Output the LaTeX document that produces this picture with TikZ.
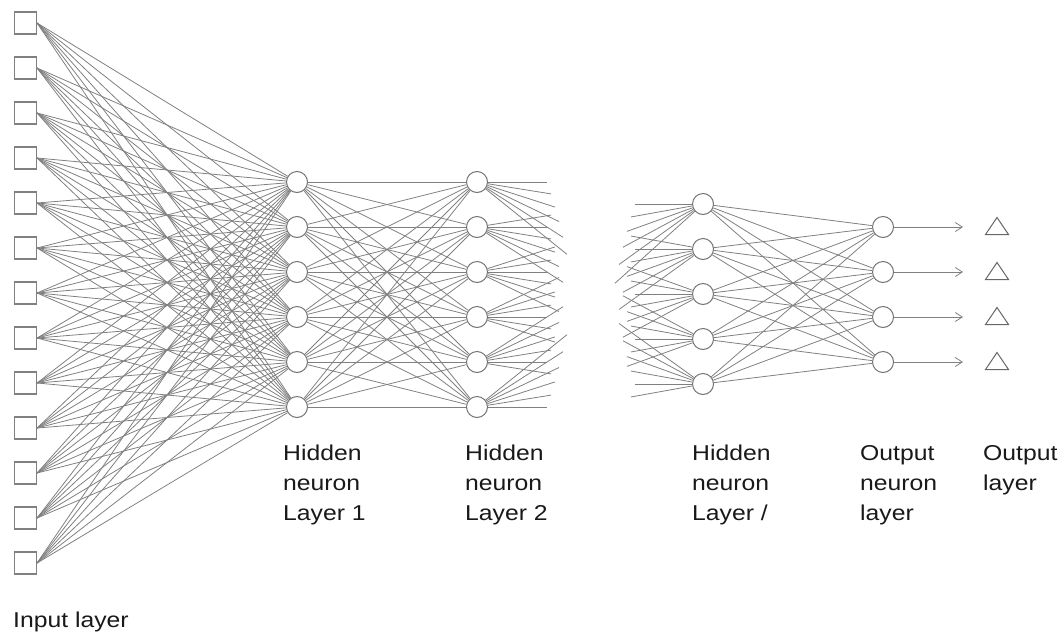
\documentclass[tikz,border=0pt]{standalone}
\usepackage{fontspec}
\setmainfont{Liberation Sans}
\newfontfamily\lblfont{Liberation Sans}[FakeStretch=1.15]
\usetikzlibrary{calc,arrows.meta,shapes.geometric}

\begin{document}
\begin{tikzpicture}[x=1pt,y=-1pt,
  wire/.style={draw=black!50, line width=0.8pt},
  inbox/.style={draw=black!50, line width=1.1pt, minimum size=22pt, inner sep=0pt, fill=white},
  neuron/.style={circle, draw=black!55, line width=1pt, fill=white, minimum size=21pt, inner sep=0pt},
  outtri/.style={isosceles triangle, isosceles triangle stretches, shape border rotate=90,
    draw=black!60, line width=1pt, minimum width=23pt, minimum height=17pt, inner sep=0pt},
  lbl/.style={anchor=north west, inner sep=0pt, align=left, text=black!90,
    font=\lblfont\fontsize{21.5pt}{30pt}\selectfont},
  outarrow/.style={wire, -{Straight Barb[length=7pt,width=9pt]}}
]
\useasboundingbox (0,0) rectangle (1064,635);

% input units
\foreach \i in {0,...,12} \node[inbox] (in\i) at (25.5,{23+45*\i}) {};
% hidden layers
\foreach \i in {0,...,5} \node[neuron] (ha\i) at (297,{182+45*\i}) {};
\foreach \i in {0,...,5} \node[neuron] (hb\i) at (477,{182+45*\i}) {};
\foreach \i in {0,...,4} \node[neuron] (hl\i) at (703,{204+45*\i}) {};
% output neurons, arrows and output units
\foreach \i in {0,...,3} {
  \node[neuron] (on\i) at (883,{227+45*\i}) {};
  \coordinate (ae\i) at (963,{227+45*\i});
  \node[outtri, anchor=south] (ot\i) at (997,{235+45*\i}) {};
}

% input -> hidden layer 1
\foreach \i in {0,...,12} \foreach \j in {0,...,5}
  \draw[wire] (in\i.east) -- (ha\j);
% hidden layer 1 -> hidden layer 2
\foreach \i in {0,...,5} \foreach \j in {0,...,5}
  \draw[wire] (ha\i) -- (hb\j);
% hidden layer 2 -> following layers (cut short)
\foreach \i in {0,...,5} \foreach \j in {0,...,5} {
  \pgfmathsetmacro\tcut{(70+4*abs(\i-\j))/280}
  \coordinate (sb\i\j) at ($(hb\i.center)!\tcut!(757,{182+45*\j})$);
  \draw[wire] (hb\i) -- (sb\i\j);
}
% preceding layers -> hidden layer l (cut short)
\foreach \i in {0,...,4} \foreach \j in {0,...,5} {
  \pgfmathsetmacro\tcut{(68+4*abs(\i-\j))/250}
  \coordinate (sl\i\j) at ($(hl\i.center)!\tcut!(453,{204+45*\j})$);
  \draw[wire] (sl\i\j) -- (hl\i);
}
% hidden layer l -> output neurons
\foreach \i in {0,...,4} \foreach \j in {0,...,3}
  \draw[wire] (hl\i) -- (on\j);
% output arrows
\foreach \i in {0,...,3}
  \draw[outarrow] (on\i) -- (ae\i);

% labels
\node[lbl] (lab1) at (283,445) {Hidden\\neuron\\Layer 1};
\node[lbl] (lab2) at (465,445) {Hidden\\neuron\\Layer 2};
\node[lbl] (labl) at (692,445) {Hidden\\neuron\\Layer /};
\node[lbl] (labo) at (860,445) {Output\\neuron\\layer};
\node[lbl] (labt) at (983,445) {Output\\layer};
\node[lbl] (labi) at (13,612) {Input layer};
\end{tikzpicture}
\end{document}
